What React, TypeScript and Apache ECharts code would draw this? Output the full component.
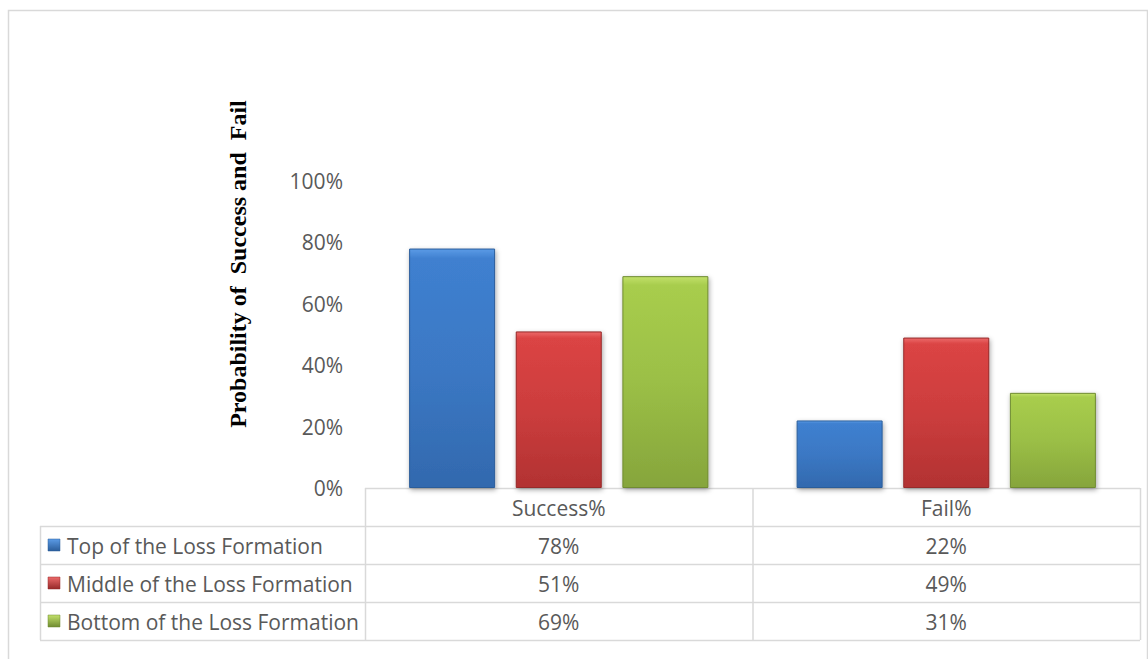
import React, { useEffect, useRef } from "react";
import * as echarts from "echarts";

const categories = ["Success%", "Fail%"];
const seriesNames = [
  "Top of the Loss Formation",
  "Middle of the Loss Formation",
  "Bottom of the Loss Formation",
];
const topValues = [78, 22];
const middleValues = [51, 49];
const bottomValues = [69, 31];
const yTicks = [0, 20, 40, 60, 80, 100];

const W = 1148;
const H = 659;
const GRID_LEFT = 365;
const GRID_RIGHT = 1140;
const GRID_TOP = 181;
const GRID_BOTTOM = 488;
const ROW_H = 38;
const TABLE_LEFT = 40;
const LINE = "#d9d9d9";
const TXT = "#595959";
const FONT = "'Open Sans', Lato, sans-serif";
const FS = 21;

const palettes = [
  { top: "#5b9be6", light: "#3f80d0", mid: "#3b78c4", dark: "#3269ae", edge: "#2b5d9a" },
  { top: "#ec6a6a", light: "#db4444", mid: "#cc3d3d", dark: "#b23232", edge: "#962929" },
  { top: "#c2e06a", light: "#a8cd4d", mid: "#9bbf46", dark: "#86a53c", edge: "#6f8b31" },
];

function barGradient(p: { top: string; light: string; mid: string; dark: string }) {
  return new echarts.graphic.LinearGradient(0, 0, 0, 1, [
    { offset: 0, color: p.top },
    { offset: 0.04, color: p.light },
    { offset: 0.5, color: p.mid },
    { offset: 1, color: p.dark },
  ]);
}

export default function App() {
  const ref = useRef<HTMLDivElement>(null);
  useEffect(() => {
    if (!ref.current) return;
    const chart = echarts.init(ref.current, undefined, { renderer: "svg" });
    const allValues = [topValues, middleValues, bottomValues];
    const catW = (GRID_RIGHT - GRID_LEFT) / categories.length;

    const graphics: any[] = [];
    graphics.push({
      type: "rect",
      shape: { x: 8.5, y: 10.5, width: 1139, height: 660 },
      style: { fill: "none", stroke: LINE, lineWidth: 1.5 },
      silent: true,
    });
    const hLine = (x1: number, x2: number, y: number) =>
      graphics.push({
        type: "line",
        shape: { x1, y1: y + 0.5, x2, y2: y + 0.5 },
        style: { stroke: LINE, lineWidth: 1.5 },
        silent: true,
      });
    const vLine = (x: number, y1: number, y2: number) =>
      graphics.push({
        type: "line",
        shape: { x1: x + 0.5, y1, x2: x + 0.5, y2 },
        style: { stroke: LINE, lineWidth: 1.5 },
        silent: true,
      });
    const tableBottom = GRID_BOTTOM + ROW_H * (seriesNames.length + 1);
    hLine(GRID_LEFT, GRID_RIGHT, GRID_BOTTOM);
    for (let r = 1; r <= seriesNames.length + 1; r++) {
      hLine(TABLE_LEFT, GRID_RIGHT, GRID_BOTTOM + ROW_H * r);
    }
    vLine(TABLE_LEFT, GRID_BOTTOM + ROW_H, tableBottom);
    for (let c = 0; c <= categories.length; c++) {
      vLine(GRID_LEFT + catW * c, GRID_BOTTOM, tableBottom);
    }
    categories.forEach((cat, ci) => {
      const cx = GRID_LEFT + catW * (ci + 0.5);
      graphics.push({
        type: "text",
        x: cx,
        y: GRID_BOTTOM + ROW_H / 2 + 1,
        style: { text: cat, fill: TXT, font: `${FS}px ${FONT}`, align: "center", verticalAlign: "middle" },
        silent: true,
      });
      allValues.forEach((vals, si) => {
        graphics.push({
          type: "text",
          x: cx,
          y: GRID_BOTTOM + ROW_H * (si + 1) + ROW_H / 2 + 1,
          style: { text: `${vals[ci]}%`, fill: TXT, font: `${FS}px ${FONT}`, align: "center", verticalAlign: "middle" },
          silent: true,
        });
      });
    });
    seriesNames.forEach((name, si) => {
      const cy = GRID_BOTTOM + ROW_H * (si + 1) + ROW_H / 2;
      const p = palettes[si];
      graphics.push({
        type: "rect",
        shape: { x: 48, y: cy - 6, width: 12, height: 12 },
        style: {
          fill: new echarts.graphic.LinearGradient(0, 0, 0, 1, [
            { offset: 0, color: p.top },
            { offset: 1, color: p.edge },
          ]),
          stroke: p.edge,
          lineWidth: 0.5,
        },
        silent: true,
      });
      graphics.push({
        type: "text",
        x: 67,
        y: cy + 1,
        style: { text: name, fill: TXT, font: `${FS}px ${FONT}`, align: "left", verticalAlign: "middle" },
        silent: true,
      });
    });
    graphics.push({
      type: "text",
      x: 238,
      y: 264,
      rotation: Math.PI / 2,
      style: {
        text: "Probability of  Success and  Fail",
        fill: "#000000",
        font: "bold 24px 'Liberation Serif', 'Times New Roman', serif",
        align: "center",
        verticalAlign: "middle",
      },
      silent: true,
    });

    chart.setOption({
      animation: false,
      grid: {
        left: GRID_LEFT,
        right: W - GRID_RIGHT,
        top: GRID_TOP,
        bottom: H - GRID_BOTTOM,
        containLabel: false,
      },
      xAxis: {
        type: "category",
        data: categories,
        axisLine: { show: false },
        axisTick: { show: false },
        axisLabel: { show: false },
      },
      yAxis: {
        type: "value",
        min: yTicks[0],
        max: yTicks[yTicks.length - 1],
        interval: yTicks[1] - yTicks[0],
        axisLine: { show: false },
        axisTick: { show: false },
        splitLine: { show: false },
        axisLabel: {
          formatter: (v: number) => `${v}%`,
          color: TXT,
          fontSize: FS,
          fontFamily: FONT,
          margin: 22,
        },
      },
      series: allValues.map((vals, si) => ({
        name: seriesNames[si],
        type: "bar",
        data: vals,
        barWidth: 86,
        barGap: "24%",
        itemStyle: {
          color: barGradient(palettes[si]),
          borderColor: palettes[si].edge,
          borderWidth: 1,
          shadowBlur: 5,
          shadowColor: "rgba(0,0,0,0.35)",
          shadowOffsetX: 1,
          shadowOffsetY: 2,
        },
      })),
      graphic: graphics,
    });
    return () => chart.dispose();
  }, []);
  return (
    <div
      ref={ref}
      style={{ position: "fixed", left: 0, top: 0, width: W, height: H, background: "#fff" }}
    />
  );
}
